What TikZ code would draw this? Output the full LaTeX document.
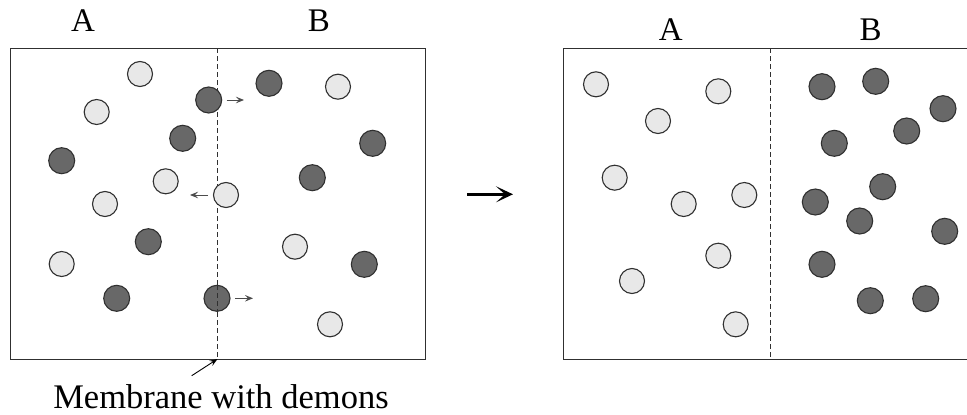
\documentclass[tikz,border=0pt]{standalone}
\usepackage{fontspec}
\setmainfont{Liberation Serif}
\usetikzlibrary{arrows.meta}
\definecolor{lightp}{HTML}{E8E8E8}
\definecolor{darkp}{HTML}{686868}
\definecolor{edge}{HTML}{303030}
\tikzset{
  lp/.style={circle,draw=edge,line width=1.1pt,fill=lightp,minimum size=25pt,inner sep=0pt},
  dp/.style={circle,draw=edge,line width=1.1pt,fill=darkp,minimum size=26pt,inner sep=0pt},
  boxline/.style={draw=edge,line width=1pt},
  membrane/.style={draw=edge,line width=1pt,dash pattern=on 5pt off 3pt},
  lbl/.style={font=\fontsize{33}{36}\selectfont,anchor=base,inner sep=0pt},
  memlbl/.style={font=\fontsize{34.5}{38}\selectfont,anchor=base,inner sep=0pt},
  small/.style={draw=black!70,line width=1pt,-{Stealth[length=8pt,width=6.5pt,inset=3pt]}},
  big/.style={draw=black,line width=3pt,-{Stealth[length=17pt,width=16pt,inset=9pt]}},
}
\begin{document}
\begin{tikzpicture}[x=1pt,y=-1pt]
\useasboundingbox (0,0) rectangle (967,415);
% left box
\draw[boxline] (10,48.3) rectangle (425.7,359);
\coordinate (mtop) at (217.5,48.3);
\coordinate (mbot) at (217.5,359);
\draw[membrane] (mtop) -- (mbot);
\node[lbl] (la) at (83,31.7) {A};
\node[lbl] (lb) at (319,31.7) {B};
\node[memlbl] (mem) at (221,408.5) {Membrane with demons};
\coordinate (mptr) at (191.7,375.7);
\draw[draw=black,line width=0.9pt,-{Stealth[length=8pt,width=6pt,inset=3pt]}] (mptr) -- (mbot);
% left light particles
\node[lp] (al1) at (140,74) {};
\node[lp] (al2) at (96.7,112) {};
\node[lp] (al3) at (165.7,181.3) {};
\node[lp] (al4) at (105,204) {};
\node[lp] (al5) at (226,195) {};
\node[lp] (al6) at (61.7,264) {};
\node[lp] (al7) at (338,86.7) {};
\node[lp] (al8) at (295,246.7) {};
\node[lp] (al9) at (330,324.3) {};
% left dark particles
\node[dp] (ad1) at (208.7,100) {};
\node[dp] (ad2) at (269,83.3) {};
\node[dp] (ad3) at (182.7,138.3) {};
\node[dp] (ad4) at (61.7,160.7) {};
\node[dp] (ad5) at (372.7,143.3) {};
\node[dp] (ad6) at (312.3,177.7) {};
\node[dp] (ad7) at (148.3,241.7) {};
\node[dp] (ad8) at (364.3,264.3) {};
\node[dp] (ad9) at (116.7,298.3) {};
\node[dp] (ad10) at (217,298.3) {};
\draw[membrane] (217.5,285) -- (217.5,312);
% small arrows
\coordinate (s1a) at (226.7,100); \coordinate (s1b) at (244,100);
\coordinate (s2a) at (208,195); \coordinate (s2b) at (190,195);
\coordinate (s3a) at (235,298.3); \coordinate (s3b) at (253,298.3);
\draw[small] (s1a) -- (s1b);
\draw[small] (s2a) -- (s2b);
\draw[small] (s3a) -- (s3b);
% big arrow
\coordinate (bs) at (467,194.3);
\coordinate (be) at (513,194.3);
\draw[big] (bs) -- (be);
% right box
\coordinate (rtl) at (563.3,48.3);
\coordinate (rbl) at (563.3,359);
\coordinate (rtr) at (968,48.3);
\coordinate (rbr) at (968,359);
\draw[boxline] (rtr) -- (rtl) -- (rbl) -- (rbr);
\coordinate (rmtop) at (770.7,48.3);
\coordinate (rmbot) at (770.7,359);
\draw[membrane] (rmtop) -- (rmbot);
\node[lbl] (ra) at (670.7,40.7) {A};
\node[lbl] (rb) at (870.7,40.7) {B};
% right light
\node[lp] (bl1) at (596,84.3) {};
\node[lp] (bl2) at (718.3,91.3) {};
\node[lp] (bl3) at (658,121) {};
\node[lp] (bl4) at (614.7,177.7) {};
\node[lp] (bl5) at (683.7,204) {};
\node[lp] (bl6) at (744.3,195) {};
\node[lp] (bl7) at (718.3,255.7) {};
\node[lp] (bl8) at (632,281) {};
\node[lp] (bl9) at (735.7,324.3) {};
% right dark
\node[dp] (bd1) at (822,86.7) {};
\node[dp] (bd2) at (875.7,81.3) {};
\node[dp] (bd3) at (943,108.7) {};
\node[dp] (bd4) at (906.7,131) {};
\node[dp] (bd5) at (834.3,143.3) {};
\node[dp] (bd6) at (882.7,186.7) {};
\node[dp] (bd7) at (815.3,202) {};
\node[dp] (bd8) at (859.7,221) {};
\node[dp] (bd9) at (944.7,231.3) {};
\node[dp] (bd10) at (822,264.3) {};
\node[dp] (bd11) at (870.3,300.7) {};
\node[dp] (bd12) at (925.7,298.7) {};
\end{tikzpicture}
\end{document}
